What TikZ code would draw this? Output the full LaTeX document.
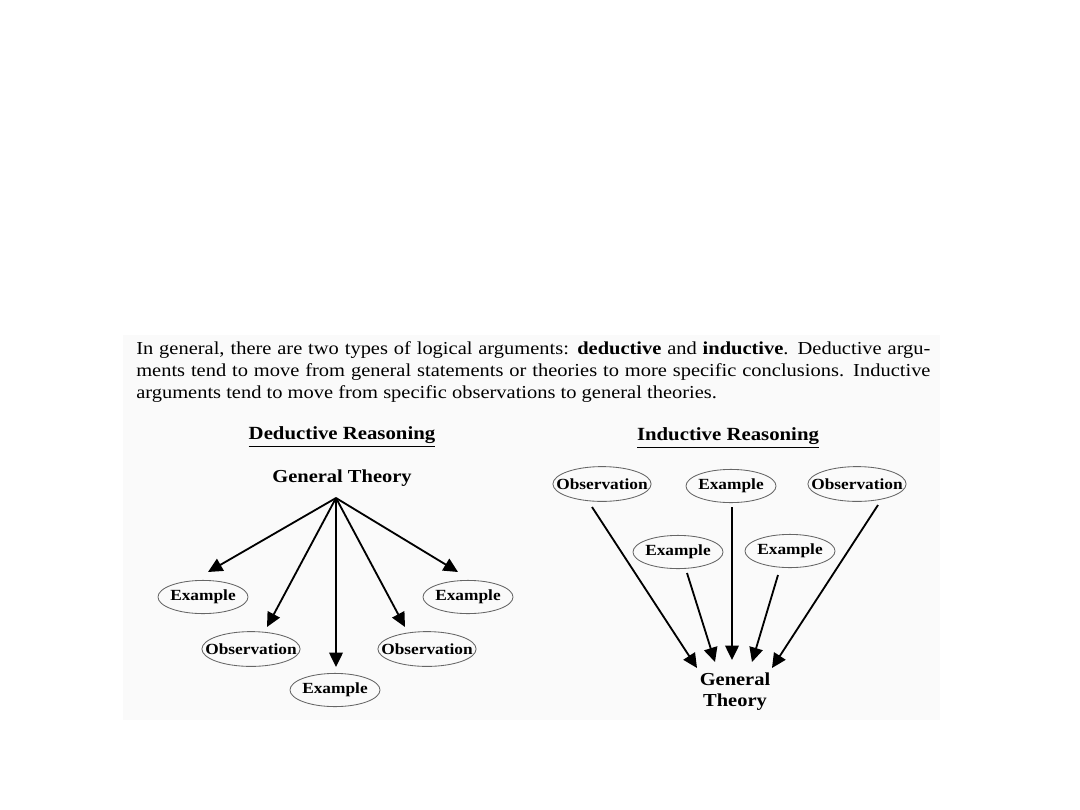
\documentclass[tikz,border=0pt]{standalone}
\usepackage{fontspec}
\setmainfont[FakeStretch=1.12]{Liberation Serif}
\usetikzlibrary{positioning,shapes.geometric,arrows.meta,calc}

\begin{document}
\begin{tikzpicture}[x=0.025cm,y=-0.025cm,
  every node/.style={align=center,inner sep=0pt},
  para/.style   ={anchor=north west,text width=19.85cm,align=justify,
                  font=\fontsize{13}{15.8}\selectfont},
  heading/.style={font=\fontsize{13.2}{16}\selectfont\bfseries},
  theory/.style ={font=\fontsize{13}{15}\selectfont\bfseries},
  oval/.style   ={ellipse,draw=black!60,line width=0.6pt,inner xsep=-0.275cm,
                  minimum width=2.25cm,minimum height=0.83cm,
                  font=\fontsize{11}{13}\selectfont\bfseries},
  obsoval/.style={oval,minimum width=2.45cm,minimum height=0.87cm},
  arr/.style    ={-{Triangle[length=3.6mm,width=3.4mm]},line width=1.3pt,black},
]
\useasboundingbox[fill=white] (0,0) rectangle (1080,810);
\fill[black!2] (123,335) rectangle (940,720);

\node[para] at (136,341) (intro) {In general, there are two types of logical
  arguments: \textbf{deductive} and \textbf{inductive}. Deductive argu-\linebreak
  ments tend to move from general statements or theories to more specific
  conclusions. Inductive\linebreak arguments tend to move from specific
  observations to general theories.};

\node[heading] at (342,437) (dhead) {\underline{Deductive Reasoning}};
\node[heading] at (728,438) (ihead) {\underline{Inductive Reasoning}};

% deductive
\node[theory]  at (342,478) (dtheory) {General Theory};
\node[oval]    at (203,597) (dex1)    {Example};
\node[obsoval] at (251,649) (dobs1)   {Observation};
\node[oval]    at (335,690) (dex2)    {Example};
\node[obsoval] at (427,649) (dobs2)   {Observation};
\node[oval]    at (468,597) (dex3)    {Example};
\coordinate (apex) at ($(dtheory)+(-6,20)$);

\draw[arr] (apex) -- ($(dex1)+(5,-25)$);
\draw[arr] (apex) -- ($(dobs1)+(16,-22)$);
\draw[arr] (apex) -- ($(dex2)+(1,-23)$);
\draw[arr] (apex) -- ($(dobs2)+(-22,-22)$);
\draw[arr] (apex) -- ($(dex3)+(-10,-25)$);

% inductive
\node[obsoval] at (602,484) (iobs1)   {Observation};
\node[oval]    at (731,486) (iex1)    {Example};
\node[obsoval] at (857,484) (iobs2)   {Observation};
\node[oval]    at (678,552) (iex2)    {Example};
\node[oval]    at (790,551) (iex3)    {Example};
\node[theory]  at (735,692) (itheory) {General\\Theory};

\draw[arr] ($(iobs1)+(-10,23)$) -- ($(itheory)+(-38,-24)$);
\draw[arr] ($(iex2)+(9,21)$)    -- ($(itheory)+(-20,-30)$);
\draw[arr] ($(iex1)+(1,21)$)    -- ($(itheory)+(-3,-32)$);
\draw[arr] ($(iex3)+(-12,24)$)  -- ($(itheory)+(17,-30)$);
\draw[arr] ($(iobs2)+(21,21)$)  -- ($(itheory)+(37,-24)$);
\end{tikzpicture}
\end{document}
